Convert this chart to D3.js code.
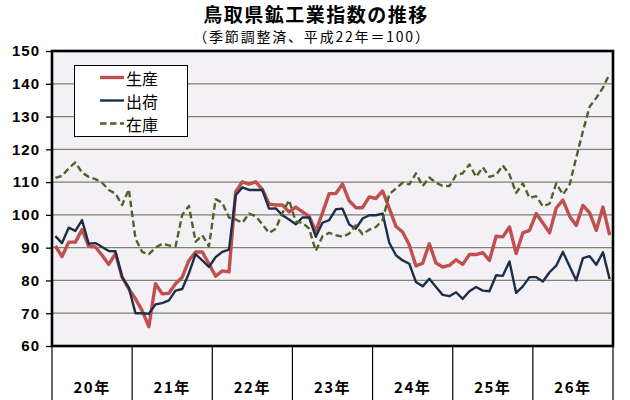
<!DOCTYPE html>
<html>
<head>
<meta charset="utf-8">
<script src="https://cdn.jsdelivr.net/npm/d3@7/dist/d3.min.js"></script>
<style>
html,body{margin:0;padding:0;background:#fff;}
svg{display:block;}
</style>
</head>
<body>
<svg id="chart" width="630" height="400"></svg>
<script>
// ---- data (平成20年1月 〜 平成26年12月, monthly) ----
const years = ["20年","21年","22年","23年","24年","25年","26年"];
const yTicks = [60,70,80,90,100,110,120,130,140,150];
const seriesNames = ["生産","出荷","在庫"];
const production = [
  90.5,87.3,91.7,91.7,95.5,90.4,90.2,87.7,84.9,88.2,81.0,77.4,
  74.4,70.8,65.9,79.0,75.9,76.1,79.0,81.0,86.1,88.7,88.7,85.1,
  81.3,82.9,82.6,107.0,110.1,109.4,110.1,107.8,103.3,103.0,103.0,100.9,
  102.4,100.9,99.6,95.0,100.6,106.5,106.5,109.4,104.3,102.2,102.2,105.5,
  105.0,107.3,102.0,96.5,94.8,90.8,84.4,85.3,91.2,85.3,84.1,84.6,
  86.3,84.9,87.9,87.9,88.5,86.1,93.5,93.3,96.3,88.2,94.5,95.3,
  100.4,97.5,94.5,102.1,104.5,99.6,96.8,102.9,100.6,95.3,102.4,93.8
];
const shipments = [
  93.5,91.4,96.1,95.1,98.4,91.2,91.4,90.2,89.0,88.9,81.0,77.8,
  70.0,70.0,69.8,72.7,73.1,73.9,76.9,77.4,82.2,88.0,86.1,84.1,
  87.1,88.7,89.4,106.0,108.4,107.6,107.6,107.6,101.9,102.0,99.9,98.6,
  97.1,99.2,99.2,93.3,97.6,98.4,101.7,101.9,97.1,95.8,98.9,99.9,
  99.9,100.4,91.5,87.7,86.1,85.1,79.5,78.2,80.5,78.0,75.6,75.2,
  76.4,74.4,76.7,78.0,76.9,76.7,81.6,81.4,85.8,76.2,78.2,81.0,
  81.0,79.7,82.5,84.5,88.7,84.3,80.0,86.8,87.4,84.8,88.6,80.4
];
const inventory = [
  111.3,111.9,114.2,116.0,112.9,111.6,110.9,109.8,107.6,106.5,103.0,107.8,
  92.8,88.7,88.0,90.0,91.2,90.7,90.4,100.0,102.7,91.8,93.8,90.4,
  104.8,103.7,99.2,98.6,97.6,100.4,99.6,97.1,94.5,95.8,100.6,104.5,
  97.9,97.6,95.8,89.0,93.5,94.5,93.8,93.3,94.3,96.8,94.1,95.5,
  96.3,98.4,106.3,108.1,109.8,109.3,112.7,108.8,111.4,109.8,108.8,108.8,
  112.1,112.7,115.4,111.6,114.5,111.6,112.2,115.1,112.3,106.7,109.6,105.2,
  105.7,102.6,103.4,109.6,106.2,109.2,117.5,125.5,133.0,135.7,138.8,143.1
];

// ---- layout ----
const svg = d3.select("#chart");
const L = 52, R = 613, T = 51, B = 346;
const nMonths = production.length;
const x = d3.scaleLinear().domain([0, nMonths]).range([L, R]);
const y = d3.scaleLinear().domain([60, 150]).range([B, T]);
const jp = "'Noto Sans CJK JP','Noto Sans',sans-serif";

const series = [
  {name: seriesNames[0], values: production, color: "#c0504d", width: 3.4, dash: null},
  {name: seriesNames[1], values: shipments,  color: "#1b2f4b", width: 2.4, dash: null},
  {name: seriesNames[2], values: inventory,  color: "#4f6228", width: 2.4, dash: "6.5,3.5"}
];

// title
svg.append("text").attr("x", 316).attr("y", 22).attr("text-anchor", "middle")
  .attr("font-family", jp).attr("font-weight", "bold").attr("font-size", 19)
  .attr("letter-spacing", 1.5).attr("fill", "#000").text("鳥取県鉱工業指数の推移");
svg.append("text").attr("x", 312).attr("y", 42).attr("text-anchor", "middle")
  .attr("font-family", jp).attr("font-size", 14)
  .attr("letter-spacing", 1.8).attr("fill", "#000").text("（季節調整済、平成22年＝100）");

// plot background
svg.append("rect").attr("x", L).attr("y", T).attr("width", R - L).attr("height", B - T)
  .attr("fill", "#f3f1f5");

// gridlines
svg.append("g").selectAll("line").data(yTicks.filter(v => v > 60 && v < 150)).join("line")
  .attr("x1", L).attr("x2", R).attr("y1", d => y(d)).attr("y2", d => y(d))
  .attr("stroke", "#7f7f72").attr("stroke-width", 1.3);

// y axis via d3 axis
const yAxis = d3.axisLeft(y).tickValues(yTicks).tickSize(6).tickPadding(6).tickFormat(d3.format("d"));
const gy = svg.append("g").attr("transform", `translate(${L},0)`).call(yAxis);
gy.select(".domain").remove();
gy.selectAll(".tick line").attr("stroke", "#000").attr("stroke-width", 1.3);
gy.selectAll(".tick text").attr("font-family", "'Liberation Sans',Arial,sans-serif")
  .attr("font-size", 15).attr("font-weight", "bold").attr("letter-spacing", 1)
  .attr("fill", "#000").attr("x", -12);

// lines
const line = d3.line().x((d, i) => x(i + 0.5)).y(d => y(d));
series.forEach(s => {
  svg.append("path").datum(s.values).attr("d", line)
    .attr("fill", "none").attr("stroke", s.color).attr("stroke-width", s.width)
    .attr("stroke-linejoin", "round").attr("stroke-linecap", "butt")
    .attr("stroke-dasharray", s.dash);
});

// plot border
svg.append("rect").attr("x", L).attr("y", T).attr("width", R - L).attr("height", B - T)
  .attr("fill", "none").attr("stroke", "#000").attr("stroke-width", 2.6);

// bottom category separators and labels
const bounds = d3.range(0, years.length + 1).map(k => k * 12);
svg.append("g").selectAll("line").data(bounds).join("line")
  .attr("x1", d => x(d)).attr("x2", d => x(d)).attr("y1", B).attr("y2", 400)
  .attr("stroke", "#000").attr("stroke-width", 1.2);
svg.append("g").selectAll("text").data(years).join("text")
  .attr("x", (d, i) => x(i * 12 + 6)).attr("y", 393).attr("text-anchor", "middle")
  .attr("font-family", jp).attr("font-size", 15).attr("font-weight", "bold")
  .attr("letter-spacing", 1.5).attr("fill", "#000").text(d => d);

// legend
const lg = svg.append("g");
lg.append("rect").attr("x", 74.5).attr("y", 65.5).attr("width", 113).attr("height", 71)
  .attr("fill", "#fff").attr("stroke", "#000").attr("stroke-width", 1);
const ly = [77.5, 100.5, 123.5];
series.forEach((s, i) => {
  lg.append("line").attr("x1", 100).attr("x2", 124).attr("y1", ly[i]).attr("y2", ly[i])
    .attr("stroke", s.color).attr("stroke-width", s.width).attr("stroke-dasharray", s.dash);
  lg.append("text").attr("x", 126).attr("y", ly[i] + 7).attr("font-family", jp)
    .attr("font-size", 16).attr("fill", "#000").text(s.name);
});
</script>
</body>
</html>
